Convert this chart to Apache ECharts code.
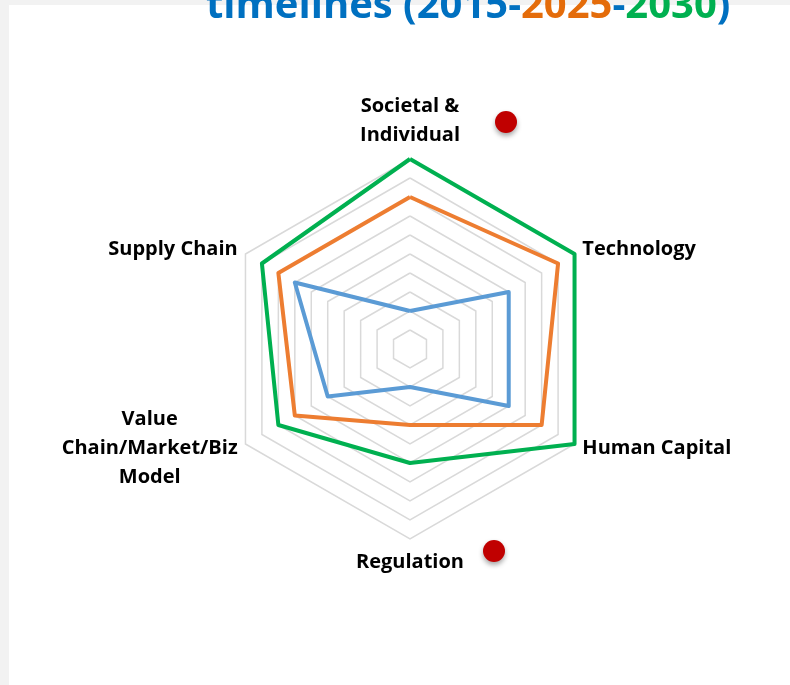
<!DOCTYPE html>
<html>
<head>
<meta charset="utf-8">
<script src="https://cdn.jsdelivr.net/npm/echarts@6/dist/echarts.min.js"></script>
<style>
    html, body { margin: 0; padding: 0; background: #f2f2f2; }
    #panel { position: absolute; left: 9px; top: 5px; width: 790px; height: 690px; background: #fff; }
    #chart { position: absolute; left: 0; top: 0; width: 790px; height: 685px; }
</style>
</head>
<body>
<div id="panel"></div>
<div id="chart"></div>
<script>
// axes, counter-clockwise from the top
var indicators = ['Societal &\nIndividual', 'Supply Chain', 'Value\nChain/Market/Biz\nModel', 'Regulation', 'Human Capital', 'Technology'];
var seriesNames = ['2015', '2025', '2030'];
var values2015 = [2, 7, 5, 2, 6, 6];
var values2025 = [8, 8, 7, 4, 8, 9];
var values2030 = [10, 9, 8, 6, 10, 10];
var colors = ['#5b9bd5', '#ed7d31', '#00b050'];

var myChart = echarts.init(document.getElementById('chart'));

var allValues = [values2015, values2025, values2030];
var seriesData = allValues.map(function (v, i) {
    return {
        name: seriesNames[i],
        value: v,
        lineStyle: { color: colors[i], width: 4 },
        itemStyle: { color: colors[i] }
    };
});

var titleFont = { fontSize: 40, fontWeight: 'bold', fontFamily: 'Open Sans' };

var option = {
    animation: false,
    title: {
        text: '{b|timelines (2015-}{o|2025}{b|-}{g|2030}{b|)}',
        left: 201,
        top: -18,
        textStyle: {
            rich: {
                b: Object.assign({ color: '#0070c0' }, titleFont),
                o: Object.assign({ color: '#e46c0a' }, titleFont),
                g: Object.assign({ color: '#00b050' }, titleFont)
            }
        }
    },
    radar: {
        center: [410, 349],
        radius: 190,
        startAngle: 90,
        splitNumber: 10,
        shape: 'polygon',
        nameGap: 9,
        indicator: indicators.map(function (n) { return { name: n, max: 10, min: 0 }; }),
        axisName: {
            color: '#000',
            fontSize: 20,
            fontWeight: 'bold',
            fontFamily: 'Open Sans',
            lineHeight: 29,
            formatter: function (name) {
                return name.split('\n').map(function (s) { return '{c|' + s + '}'; }).join('\n');
            },
            rich: {
                c: { align: 'center', fontSize: 20, fontWeight: 'bold', fontFamily: 'Open Sans', color: '#000', lineHeight: 29 }
            }
        },
        axisLine: { show: false },
        axisTick: { show: false },
        splitArea: { show: false },
        splitLine: { lineStyle: { color: '#d9d9d9', width: 1.5 } }
    },
    graphic: [
        { type: 'circle', shape: { cx: 506, cy: 122, r: 11 }, style: { fill: '#c00000', shadowBlur: 5, shadowOffsetY: 3, shadowColor: 'rgba(0,0,0,0.35)' } },
        { type: 'circle', shape: { cx: 494, cy: 551, r: 11 }, style: { fill: '#c00000', shadowBlur: 5, shadowOffsetY: 3, shadowColor: 'rgba(0,0,0,0.35)' } }
    ],
    series: [{
        type: 'radar',
        symbol: 'none',
        data: seriesData
    }]
};

myChart.setOption(option);
</script>
</body>
</html>
